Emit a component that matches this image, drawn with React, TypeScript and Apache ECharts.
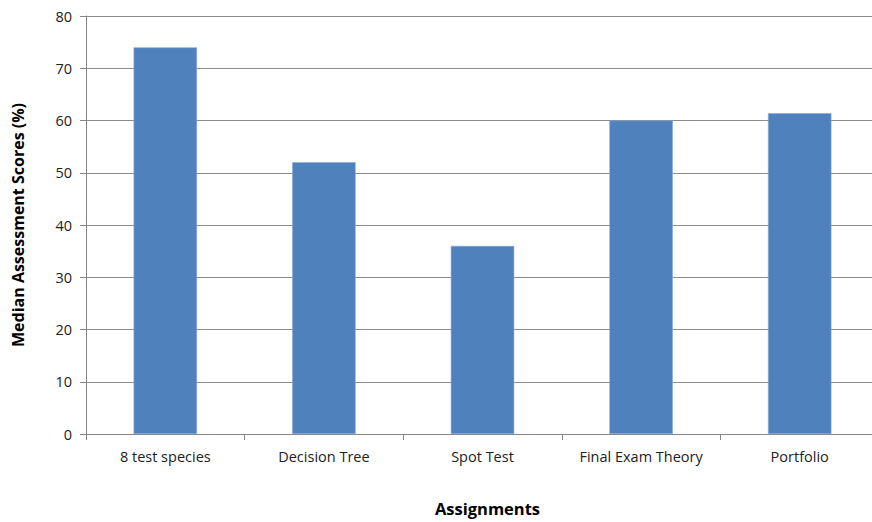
import React, { useEffect, useRef } from "react";
import * as echarts from "echarts";

const categories = ["8 test species", "Decision Tree", "Spot Test", "Final Exam Theory", "Portfolio"];
const medianScores = [74, 52, 36, 60, 61.4];
const yTicks = { min: 0, max: 80, interval: 10 };

const FONT = "'Open Sans', 'Noto Sans', sans-serif";

export default function App() {
  const ref = useRef<HTMLDivElement>(null);

  useEffect(() => {
    if (!ref.current) return;
    const chart = echarts.init(ref.current, null, { renderer: "svg" });
    chart.setOption({
      animation: false,
      backgroundColor: "#ffffff",
      // plot area runs slightly past the visible right edge
      grid: { left: 86, top: 16, width: 793, height: 420, containLabel: false },
      xAxis: {
        type: "category",
        data: categories,
        name: "Assignments",
        nameLocation: "middle",
        nameGap: 66,
        nameTextStyle: {
          fontFamily: FONT,
          fontWeight: "bold",
          fontSize: 16.5,
          color: "#000",
          padding: [0, 0, 0, 10],
        },
        axisLine: { lineStyle: { color: "#868686", width: 1 } },
        axisTick: { show: true, length: 6, lineStyle: { color: "#868686" } },
        axisLabel: { fontFamily: FONT, fontSize: 14.5, color: "#222", margin: 15, interval: 0 },
      },
      yAxis: {
        type: "value",
        min: yTicks.min,
        max: yTicks.max,
        interval: yTicks.interval,
        name: "Median Assessment Scores (%)",
        nameLocation: "middle",
        nameGap: 60,
        nameTextStyle: { fontFamily: FONT, fontWeight: "bold", fontSize: 16, color: "#000" },
        axisLine: { show: true, lineStyle: { color: "#868686", width: 1 } },
        axisTick: { show: true, length: 6, lineStyle: { color: "#868686" } },
        axisLabel: { fontFamily: FONT, fontSize: 14.5, color: "#222", margin: 14 },
        splitLine: { show: true, lineStyle: { color: "#8c8c8c", width: 1 } },
      },
      series: [
        {
          type: "bar",
          data: medianScores,
          barWidth: "40%",
          itemStyle: { color: "#4F81BD", borderColor: "#8aa8d3", borderWidth: 0.6 },
        },
      ],
    });
    return () => chart.dispose();
  }, []);

  return (
    <div
      style={{
        position: "fixed",
        left: 0,
        top: 0,
        width: 872,
        height: 522,
        overflow: "hidden",
        background: "#fff",
      }}
    >
      <div ref={ref} style={{ width: 884, height: 522 }} />
    </div>
  );
}
